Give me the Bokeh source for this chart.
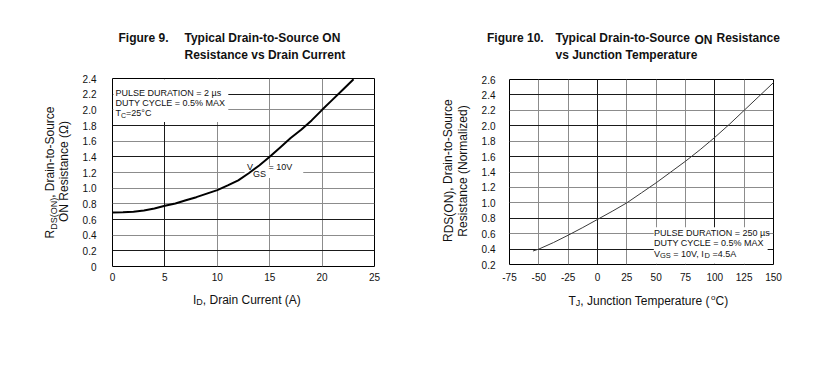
import math
from bokeh.plotting import figure
from bokeh.models import Label, BoxAnnotation, FixedTicker, Grid, Range1d, PrintfTickFormatter
from bokeh.layouts import row, column
from bokeh.embed import file_html
from bokeh.resources import INLINE

# ---------------- data ----------------
# Figure 9: RDS(ON) vs drain current
drain_current = [0, 1, 2, 3, 4, 5, 6, 7, 8, 9, 10, 11, 12, 13, 14, 15, 16, 17, 18, 19, 20, 21, 22, 23]
rds_on_ohm = [0.69, 0.693, 0.70, 0.715, 0.74, 0.775, 0.805, 0.845, 0.885, 0.93, 0.975, 1.035,
              1.10, 1.19, 1.29, 1.40, 1.52, 1.64, 1.745, 1.865, 2.00, 2.13, 2.26, 2.39]

# Figure 10: normalized RDS(ON) vs junction temperature
junction_temp = [-55, -50, -37.5, -25, -12.5, 0, 12.5, 25, 37.5, 50, 62.5, 75, 87.5, 100, 112.5, 125, 137.5, 150]
rds_norm = [0.375, 0.40, 0.485, 0.58, 0.68, 0.785, 0.89, 1.0, 1.13, 1.26, 1.40, 1.54, 1.69, 1.85,
            2.02, 2.20, 2.38, 2.56]

fig9_xticks = [0, 5, 10, 15, 20, 25]
fig9_yticks = [0, 0.2, 0.4, 0.6, 0.8, 1.0, 1.2, 1.4, 1.6, 1.8, 2.0, 2.2, 2.4]
fig9_ylabels = {0: "0"}
fig10_xticks = [-75, -50, -25, 0, 25, 50, 75, 100, 125, 150]
fig10_xlabels = {-75: "-75", -50: "-50", -25: "-25"}
fig10_yticks = [0.2, 0.4, 0.6, 0.8, 1.0, 1.2, 1.4, 1.6, 1.8, 2.0, 2.2, 2.4, 2.6]

FONT = "Liberation Sans"
NB = "\u00a0"

# Arial / Liberation Sans advance widths (per 1000 em)
W = {' ': 278, NB: 278, ',': 278, '.': 278, '-': 333, '(': 333, ')': 333, '=': 584, '%': 889,
     '°': 400, 'µ': 576, 'Ω': 768}
for ch in "0123456789":
    W[ch] = 556
W.update(dict(zip("ABCDEFGHIJKLMNOPQRSTUVWXYZ",
                  [667, 667, 722, 722, 667, 611, 778, 722, 278, 500, 667, 556, 833, 722, 778, 667, 778,
                   722, 667, 611, 722, 667, 944, 667, 667, 611])))
W.update(dict(zip("abcdefghijklmnopqrstuvwxyz",
                  [556, 556, 500, 556, 556, 278, 556, 556, 222, 222, 500, 222, 833, 556, 556, 556, 556,
                   333, 500, 278, 556, 500, 722, 500, 500, 500])))


def tw(s, size):
    return sum(W.get(c, 556) for c in s) * size / 1000.0


def mk_label(x, y, text, size, units, bold=False, align="left", angle=0.0, color="#111111"):
    return Label(x=x, y=y, x_units=units, y_units=units, text=text,
                 text_font=FONT, text_font_size=f"{size}px",
                 text_font_style="bold" if bold else "normal",
                 text_align=align, text_baseline="middle", angle=angle, text_color=color)


# --- text panels: figures without axes; data coords = page pixels of their frame ---
def text_fig(x0, y0, w, h, fy0=None, fy1=None):
    # fy0/fy1: page y of the frame top/bottom when the row aligns this frame with a chart frame
    top = y0 if fy0 is None else fy0
    bottom = y0 + h if fy1 is None else fy1
    f = figure(width=w, height=h, x_range=Range1d(x0, x0 + w), y_range=Range1d(bottom, top),
               min_border=0, x_axis_location=None, y_axis_location=None, title=None,
               toolbar_location=None, output_backend="svg")
    f.outline_line_color = None
    f.background_fill_color = "white"
    f.border_fill_color = "white"
    f.grid.visible = False
    return f


def tl(f, px, py, text, size, bold=False, align="left", angle=0.0):
    f.add_layout(mk_label(px, py, text, size, "data", bold, align, angle))


def hseq_t(f, x0, y, parts):
    x = x0
    for text, size, dy in parts:
        tl(f, x, y + dy, text, size)
        x += tw(text, size)


def vseq_t(f, xc, y0, parts):
    # rotated text reading bottom-to-top; each piece centred on its own span
    y = y0
    for text, size, dx in parts:
        w = tw(text, size)
        tl(f, xc + dx, y - w / 2.0, text, size, align="center", angle=math.pi / 2)
        y -= w


# --- labels inside chart frames (screen units relative to frame bottom-left) ---
def fl(p, L, B, px, py, text, size):
    p.add_layout(mk_label(px - L, B - py, text, size, "screen"))


def hseq_f(p, L, B, x0, y, parts):
    x = x0
    for text, size, dy in parts:
        fl(p, L, B, x, y + dy, text, size)
        x += tw(text, size)


def chart_fig(width, height, xr, yr, bl, br, bt, bb):
    p = figure(width=width, height=height, x_range=Range1d(*xr), y_range=Range1d(*yr),
               output_backend="svg", toolbar_location=None, title=None,
               min_border_left=bl, min_border_right=br, min_border_top=bt, min_border_bottom=bb)
    p.background_fill_color = "white"
    p.border_fill_color = "white"
    p.outline_line_color = "black"
    p.outline_line_width = 1
    p.xgrid.visible = False
    p.ygrid.visible = False
    for ax in (p.xaxis[0], p.yaxis[0]):
        ax.axis_line_color = None
        ax.major_tick_in = 0
        ax.major_tick_out = 0
        ax.minor_tick_in = 0
        ax.minor_tick_out = 0
        ax.major_label_text_font = FONT
        ax.major_label_text_font_size = "10px"
        ax.major_label_text_color = "#111111"
    return p


def add_grids(p, xdark, xlight, ydark, ylight):
    for dim, ticks, col in ((0, xlight, "#8c8c8c"), (1, ylight, "#8c8c8c"),
                            (0, xdark, "#1a1a1a"), (1, ydark, "#1a1a1a")):
        if ticks:
            p.add_layout(Grid(dimension=dim, ticker=FixedTicker(ticks=ticks),
                              grid_line_color=col, grid_line_width=1))


# ================= Figure 9 block (x 0..420) =================
L9, B9 = 112, 266
t9 = text_fig(0, 0, 420, 70)
tl(t9, 118, 37, "Figure 9.", 12, bold=True)
tl(t9, 184, 37, "Typical Drain-to-Source ON", 12, bold=True)
tl(t9, 184, 54, "Resistance vs Drain Current", 12, bold=True)

y9 = text_fig(0, 70, 75, 220, fy0=78, fy1=266)
vseq_t(y9, 49.5, 238, [("R", 12, 0), ("DS(ON)", 9, 4), (", Drain-to-Source", 12, 0)])
tl(y9, 63, 171, "ON Resistance (Ω)", 12, align="center", angle=math.pi / 2)

p9 = chart_fig(345, 220, (0, 25), (0, 2.4), 37, 46, 8, 24)
p9.xaxis.ticker = FixedTicker(ticks=fig9_xticks)
p9.yaxis.ticker = FixedTicker(ticks=fig9_yticks)
p9.yaxis.formatter = PrintfTickFormatter(format="%.1f")
p9.yaxis.major_label_overrides = fig9_ylabels
p9.xaxis.major_label_standoff = 6
p9.yaxis.major_label_standoff = 16
add_grids(p9, [5], [10, 15, 20], [2.2, 1.8, 1.4, 0.6, 0.2], [2.0, 1.6, 1.2, 1.0, 0.8, 0.4])
p9.add_layout(BoxAnnotation(left=0.08, right=11.05, bottom=1.845, top=2.39,
                            fill_color="white", fill_alpha=1, line_color=None))
p9.add_layout(BoxAnnotation(left=12.6, right=18.2, bottom=1.13, top=1.29,
                            fill_color="white", fill_alpha=1, line_color=None))
p9.line(drain_current, rds_on_ohm, line_color="black", line_width=2, level="overlay")
fl(p9, L9, B9, 115, 92, "PULSE DURATION = 2 µs", 9)
fl(p9, L9, B9, 115, 102.5, "DUTY CYCLE = 0.5% MAX", 9)
hseq_f(p9, L9, B9, 115, 112.5, [("T", 9, 0), ("C", 7, 2), ("=25°C", 9, 0)])
hseq_f(p9, L9, B9, 246.5, 166, [("V", 9, 0), ("GS", 9, 7), (NB + "=" + NB + "10V", 9, 0.5)])

x9 = text_fig(0, 290, 420, 72)
hseq_t(x9, 192.5, 299, [("I", 12, 0), ("D", 9, 2.5), (", Drain Current (A)", 12, 0)])

block9 = column(t9, row(y9, p9), x9)

# ================= Figure 10 block (x 420..827) =================
L10, B10 = 509, 264
t10 = text_fig(420, 0, 407, 70)
tl(t10, 486.5, 37.5, "Figure 10.", 12, bold=True)
tl(t10, 555, 37.5, "Typical Drain-to-Source", 12, bold=True)
tl(t10, 694, 39.5, "ON", 12, bold=True)
tl(t10, 716, 37.5, "Resistance", 12, bold=True)
tl(t10, 555, 54, "vs Junction Temperature", 12, bold=True)

y10 = text_fig(420, 70, 52, 220, fy0=79, fy1=264)
vseq_t(y10, 447, 241.5, [("R", 12, 0), ("DS(ON)", 12, 1.5), (", Drain-to-Source", 12, 0)])
tl(y10, 462.5, 170.5, "Resistance (Normalized)", 12, align="center", angle=math.pi / 2)

p10 = chart_fig(355, 220, (-75, 150), (0.2, 2.6), 37, 54, 9, 26)
p10.xaxis.ticker = FixedTicker(ticks=fig10_xticks)
p10.xaxis.major_label_overrides = fig10_xlabels
p10.yaxis.ticker = FixedTicker(ticks=fig10_yticks)
p10.yaxis.formatter = PrintfTickFormatter(format="%.1f")
p10.xaxis.major_label_standoff = 8
p10.yaxis.major_label_standoff = 14
add_grids(p10, [0, 100], [-50, -25, 25, 50, 75, 125], [2.4, 2.0, 1.6, 0.8, 0.4],
          [2.2, 1.8, 1.4, 1.2, 1.0, 0.6])
p10.add_layout(BoxAnnotation(left=48, right=145, bottom=0.21, top=0.684,
                             fill_color="white", fill_alpha=1, line_color=None))
p10.line(junction_temp, rds_norm, line_color="#3a3a3a", line_width=1, level="overlay")
fl(p10, L10, B10, 653.5, 232, "PULSE DURATION = 250 µs", 9)
fl(p10, L10, B10, 653.5, 242.5, "DUTY CYCLE = 0.5% MAX", 9)
hseq_f(p10, L10, B10, 653.5, 253, [("V", 9, 0), ("GS", 7.5, 2), (NB + "=" + NB + "10V," + NB + "I", 9, 0),
                                   ("D", 7.5, 2), (NB + "=4.5A", 9, 0)])

x10 = text_fig(420, 290, 407, 72)
hseq_t(x10, 568, 300, [("T", 12, 0), ("J", 9, 2.5), (", Junction Temperature (", 12, 0),
                       ("o", 8, -3), ("C)", 12, 0)])

block10 = column(t10, row(y10, p10), x10)

layout = row(block9, block10)
open("out.html", "w").write(file_html(layout, INLINE))
